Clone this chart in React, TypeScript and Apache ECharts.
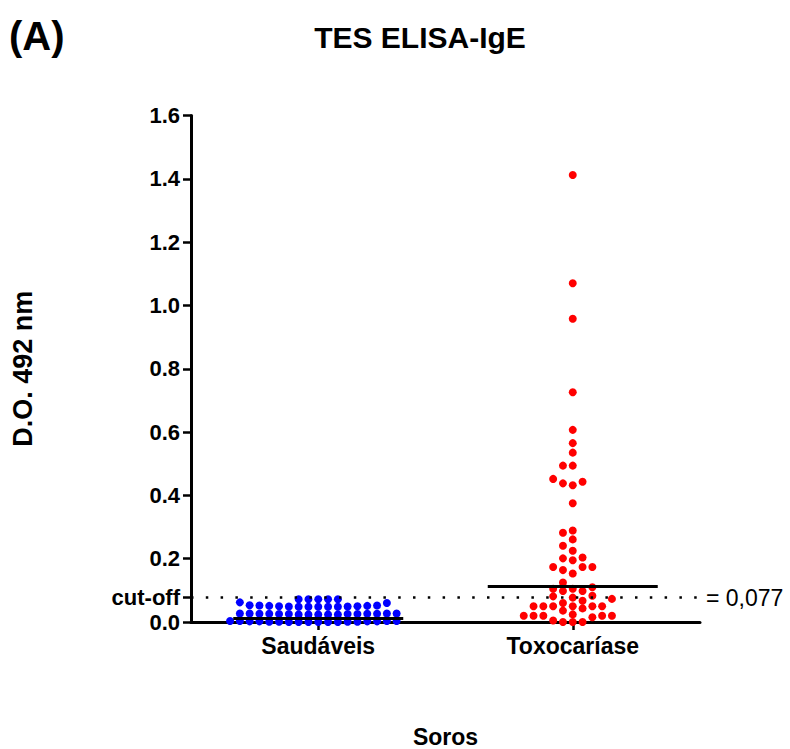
import React, { useEffect, useRef } from "react";
import * as echarts from "echarts";

// ---------- data ----------
const categories = ["Saudáveis", "Toxocaríase"];

const healthyValues = [
  0.0, 0.0, 0.0, 0.0, 0.0, 0.0, 0.001, 0.001, 0.001, 0.001, 0.002, 0.002, 0.002, 0.002,
  0.003, 0.003, 0.003, 0.003,
  0.024, 0.024, 0.024, 0.024, 0.024, 0.025, 0.025, 0.025, 0.025, 0.026, 0.026, 0.026, 0.026,
  0.027, 0.027, 0.027, 0.027,
  0.048, 0.048, 0.048, 0.048, 0.048, 0.049, 0.049, 0.05, 0.05, 0.051, 0.051, 0.052, 0.052, 0.053,
  0.06, 0.062,
  0.072, 0.072, 0.072, 0.072, 0.072,
];

const toxocariasisValues = [
  1.412, 1.07, 0.958, 0.726, 0.607, 0.565, 0.535, 0.494, 0.494, 0.452, 0.443, 0.438, 0.432,
  0.375, 0.289, 0.282, 0.261, 0.241, 0.225, 0.204, 0.201, 0.195, 0.174, 0.174, 0.174, 0.164, 0.153,
  0.125, 0.11, 0.105, 0.105, 0.098, 0.098, 0.083, 0.081, 0.077, 0.073, 0.067, 0.06,
  0.05, 0.05, 0.05, 0.05, 0.05, 0.05, 0.043, 0.036, 0.024, 0.02, 0.02, 0.02, 0.02, 0.02, 0.015,
  0.005, 0.0, 0.0, 0.0,
];

const medianValues = [0.013, 0.114];
const cutOff = 0.077;
const cutOffText = "= 0,077";
const yTickValues = [0, 0.2, 0.4, 0.6, 0.8, 1.0, 1.2, 1.4, 1.6];
const seriesColors = ["#0000FF", "#FF0000"];

// ---------- layout ----------
const W = 790;
const H = 749;
const GRID = { left: 191, top: 115.5, right: 90, bottom: 127 };
const Y_MAX = 1.6;
const X_MAX = 2;
const DOT = 8;
const COL_STEP_PX = 9.8;
const MIN_GAP_PX = 7.5;
const MEDIAN_HALF_PX = 85;
const FONT = '"Liberation Sans", Arial, sans-serif';

const gridW = W - GRID.left - GRID.right;
const gridH = H - GRID.top - GRID.bottom;
const pxPerY = gridH / Y_MAX;
const xPerPx = X_MAX / gridW;

// column-scatter (beeswarm) layout computed from the values
function beeswarm(values: number[], center: number): number[][] {
  const sorted = values.slice().sort((a, b) => a - b);
  const cols = new Map<number, number[]>();
  const out: number[][] = [];
  for (const v of sorted) {
    const y = v * pxPerY;
    for (let k = 0; k < 200; k++) {
      const c = k === 0 ? 0 : k % 2 === 1 ? -Math.ceil(k / 2) : k / 2;
      const arr = cols.get(c) || [];
      if (arr.every((o) => Math.abs(o - y) >= MIN_GAP_PX - 1e-9)) {
        arr.push(y);
        cols.set(c, arr);
        out.push([center + c * COL_STEP_PX * xPerPx, v]);
        break;
      }
    }
  }
  return out;
}

export default function App() {
  const ref = useRef<HTMLDivElement>(null);
  useEffect(() => {
    if (!ref.current) return;
    const chart = echarts.init(ref.current, undefined, { renderer: "svg" });
    const groups = [healthyValues, toxocariasisValues];
    const halfUnits = MEDIAN_HALF_PX * xPerPx;

    const series: any[] = groups.map((vals, i) => {
      const center = i + 0.5;
      const s: any = {
        type: "scatter",
        name: categories[i],
        xAxisIndex: 1,
        yAxisIndex: 0,
        symbol: "circle",
        symbolSize: DOT,
        itemStyle: { color: seriesColors[i], opacity: 1 },
        data: beeswarm(vals, center),
        z: 3,
        markLine: {
          silent: true,
          symbol: "none",
          label: { show: false },
          lineStyle: { color: "#000", width: 3, type: "solid" },
          emphasis: { disabled: true },
          data: [
            [
              { coord: [center - halfUnits, medianValues[i]] },
              { coord: [center + halfUnits, medianValues[i]] },
            ],
          ],
        },
      };
      return s;
    });

    series.push({
      type: "line",
      xAxisIndex: 1,
      yAxisIndex: 0,
      data: [],
      markLine: {
        silent: true,
        symbol: "none",
        lineStyle: { color: "#000", width: 2.5, type: [2.5, 12.3], cap: "butt" },
        label: {
          show: true,
          position: "end",
          distance: 6,
          formatter: cutOffText,
          color: "#000",
          fontFamily: FONT,
          fontSize: 23,
          fontWeight: "normal",
        },
        data: [[{ coord: [0, cutOff] }, { coord: [X_MAX, cutOff] }]],
      },
    });

    const yCustom = [0, cutOff, ...yTickValues.slice(1)];

    chart.setOption({
      animation: false,
      backgroundColor: "#fff",
      textStyle: { fontFamily: FONT },
      title: [
        {
          text: "(A)",
          left: 9,
          top: 16,
          padding: 0,
          textStyle: { fontFamily: FONT, fontSize: 40, fontWeight: "bold", color: "#000" },
        },
        {
          text: "TES ELISA-IgE",
          left: 420,
          textAlign: "center",
          top: 22,
          padding: 0,
          textStyle: { fontFamily: FONT, fontSize: 30, fontWeight: "bold", color: "#000" },
        },
      ],
      grid: { ...GRID, containLabel: false, outerBoundsMode: "none" },
      xAxis: [
        {
          type: "category",
          data: categories,
          boundaryGap: true,
          name: "Soros",
          nameLocation: "middle",
          nameGap: 103,
          nameTextStyle: { fontFamily: FONT, fontSize: 23, fontWeight: "bold", color: "#000" },
          axisLine: { show: true, lineStyle: { color: "#000", width: 3 } },
          axisTick: { show: true, alignWithLabel: true, length: 8, lineStyle: { color: "#000", width: 2.5 } },
          axisLabel: { margin: 12, fontFamily: FONT, fontSize: 23, fontWeight: "bold", color: "#000" },
          splitLine: { show: false },
        },
        { type: "value", min: 0, max: X_MAX, show: false },
      ],
      yAxis: {
        type: "value",
        min: 0,
        max: Y_MAX,
        interval: 0.2,
        name: "D.O. 492 nm",
        nameLocation: "middle",
        nameGap: 155,
        nameTextStyle: { fontFamily: FONT, fontSize: 27, fontWeight: "bold", color: "#000" },
        axisLine: { show: true, lineStyle: { color: "#000", width: 3 } },
        axisTick: {
          show: true,
          length: 8,
          customValues: yCustom,
          lineStyle: { color: "#000", width: 2.5 },
        },
        axisLabel: {
          margin: 11,
          customValues: yCustom,
          fontFamily: FONT,
          fontSize: 22,
          fontWeight: "bold",
          color: "#000",
          formatter: (v: number) => (Math.abs(v - cutOff) < 1e-9 ? "cut-off" : v.toFixed(1)),
        },
        splitLine: { show: false },
      },
      series,
    });
    return () => chart.dispose();
  }, []);

  return (
    <div
      ref={ref}
      style={{ position: "absolute", left: 0, top: 0, width: W, height: H, background: "#fff" }}
    />
  );
}
